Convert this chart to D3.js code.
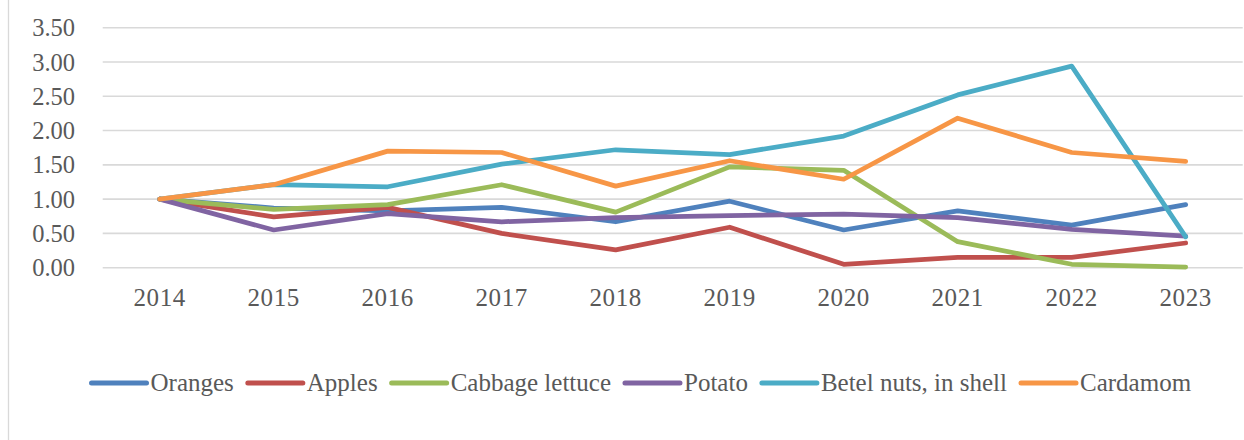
<!DOCTYPE html>
<html>
<head>
<meta charset="utf-8">
<script src="https://cdn.jsdelivr.net/npm/d3@7"></script>
<style>
  html, body { margin: 0; padding: 0; background: #ffffff; }
  svg { display: block; }
  text { font-family: "Liberation Serif", "DejaVu Serif", serif; fill: #595959; }
</style>
</head>
<body>
<svg id="chart" width="1244" height="440"></svg>
<script>
// Price index by product, 2014 = 1.00
const years = ["2014", "2015", "2016", "2017", "2018", "2019", "2020", "2021", "2022", "2023"];
const seriesNames = ["Oranges", "Apples", "Cabbage lettuce", "Potato", "Betel nuts, in shell", "Cardamom"];
const oranges   = [1.00, 0.87, 0.83, 0.88, 0.67, 0.97, 0.55, 0.83, 0.62, 0.92];
const apples    = [1.00, 0.74, 0.88, 0.50, 0.26, 0.59, 0.05, 0.15, 0.15, 0.36];
const cabbage   = [1.00, 0.85, 0.92, 1.21, 0.81, 1.47, 1.42, 0.38, 0.05, 0.01];
const potato    = [1.00, 0.55, 0.79, 0.67, 0.73, 0.76, 0.78, 0.73, 0.56, 0.46];
const betel     = [1.00, 1.21, 1.18, 1.51, 1.72, 1.65, 1.92, 2.52, 2.94, 0.45];
const cardamom  = [1.00, 1.21, 1.70, 1.68, 1.19, 1.56, 1.29, 2.18, 1.68, 1.55];
const yTicks    = [0, 0.5, 1, 1.5, 2, 2.5, 3, 3.5];
const colors    = ["#4F81BD", "#C0504D", "#9BBB59", "#8064A2", "#4BACC6", "#F79646"];

const seriesValues = [oranges, apples, cabbage, potato, betel, cardamom];
const series = seriesNames.map((name, i) => ({ name, color: colors[i], values: seriesValues[i] }));

const svg = d3.select("#chart");

// Outer chart frame (left edge)
svg.append("line")
  .attr("x1", 8.5).attr("x2", 8.5).attr("y1", 0).attr("y2", 440)
  .attr("stroke", "#d9d9d9").attr("stroke-width", 1.3);

const plotLeft = 102.7, plotRight = 1242.7, plotTop = 27.7, plotBottom = 267.7;

const x = d3.scaleBand().domain(years).range([plotLeft, plotRight]).padding(0);
const y = d3.scaleLinear().domain([0, 3.5]).range([plotBottom, plotTop]);

// Horizontal gridlines
svg.append("g")
  .selectAll("line")
  .data(yTicks)
  .join("line")
  .attr("x1", plotLeft).attr("x2", plotRight)
  .attr("y1", d => y(d)).attr("y2", d => y(d))
  .attr("stroke", "#d9d9d9").attr("stroke-width", 1.6);

// Y axis labels
const yAxis = d3.axisLeft(y).tickValues(yTicks).tickFormat(d3.format(".2f")).tickSize(0).tickPadding(0);
const yg = svg.append("g").attr("transform", "translate(75,0)").call(yAxis);
yg.select(".domain").remove();
yg.selectAll("text")
  .attr("font-family", null)
  .style("font-size", "24.5px")
  .attr("dy", "0.33em");

// X axis labels
const xAxis = d3.axisBottom(x).tickSize(0).tickPadding(0);
const xg = svg.append("g").attr("transform", "translate(0,306)").call(xAxis);
xg.select(".domain").remove();
xg.selectAll("text")
  .attr("font-family", null)
  .style("font-size", "25px")
  .style("letter-spacing", "0.6px")
  .attr("dy", 0)
  .attr("y", 0);

// Series lines
const line = d3.line()
  .x((d, i) => x(years[i]) + x.bandwidth() / 2)
  .y(d => y(d));

svg.append("g")
  .selectAll("path")
  .data(series)
  .join("path")
  .attr("d", d => line(d.values))
  .attr("fill", "none")
  .attr("stroke", d => d.color)
  .attr("stroke-width", 4.75)
  .attr("stroke-linejoin", "round")
  .attr("stroke-linecap", "round");

// Legend
const legend = svg.append("g");
const swatch = 55, textGap = 4, itemGap = 14, legendY = 383, legendCenter = 641.3;
const items = legend.selectAll("g").data(series).join("g");
items.append("line")
  .attr("x1", 0).attr("x2", swatch)
  .attr("y1", 0).attr("y2", 0)
  .attr("stroke", d => d.color)
  .attr("stroke-width", 5)
  .attr("stroke-linecap", "round");
items.append("text")
  .attr("x", swatch + textGap)
  .attr("y", 0)
  .attr("dy", "0.33em")
  .style("font-size", "25px")
  .text(d => d.name);

let widths = [];
items.each(function () {
  widths.push(swatch + textGap + d3.select(this).select("text").node().getComputedTextLength());
});
const total = d3.sum(widths) + itemGap * (widths.length - 1);
let cx = legendCenter - total / 2;
items.attr("transform", (d, i) => {
  const t = `translate(${cx},${legendY})`;
  cx += widths[i] + itemGap;
  return t;
});
</script>
</body>
</html>
